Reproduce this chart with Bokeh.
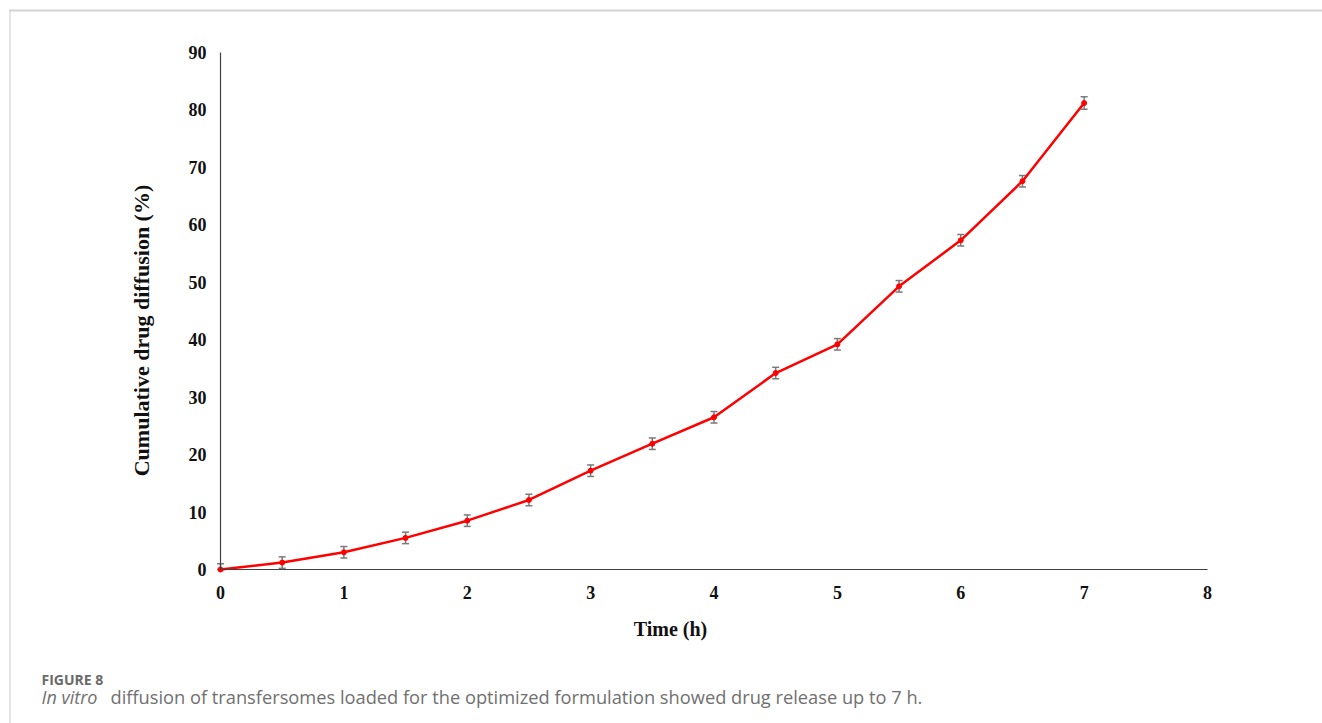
import math
from bokeh.plotting import figure
from bokeh.models import (ColumnDataSource, Range1d, Whisker, TeeHead, Label,
                          BoxAnnotation, FixedTicker)
from bokeh.embed import file_html
from bokeh.resources import INLINE

# ---- data ----
time_h = [0, 0.5, 1, 1.5, 2, 2.5, 3, 3.5, 4, 4.5, 5, 5.5, 6, 6.5, 7]
diffusion = [0.0, 1.2, 3.0, 5.5, 8.5, 12.1, 17.2, 21.9, 26.5, 34.2, 39.2, 49.3, 57.3, 67.6, 81.2]
error = [1.0, 1.0, 1.0, 1.0, 1.0, 1.0, 1.0, 1.0, 1.0, 1.0, 1.0, 1.0, 1.0, 1.0, 1.1]
x_ticks = [0, 1, 2, 3, 4, 5, 6, 7, 8]
y_ticks = [0, 10, 20, 30, 40, 50, 60, 70, 80, 90]
x_title = "Time (h)"
y_title = "Cumulative drug diffusion (%)"
caption_head = "FIGURE 8"
caption_italic = "In vitro"
caption_rest = "diffusion of transfersomes loaded for the optimized formulation showed drug release up to 7 h."

lower = [max(0.0, d - e) for d, e in zip(diffusion, error)]
upper = [d + e for d, e in zip(diffusion, error)]
src = ColumnDataSource(dict(x=time_h, y=diffusion, lower=lower, upper=upper))

W, H = 1322, 723
# pixel placement of the axes box on the page
AX_L, AX_R, AX_T, AX_B = 220, 1207, 52, 569
X0, X1 = x_ticks[0], x_ticks[-1]
Y0, Y1 = y_ticks[0], y_ticks[-1]
kx = (AX_R - AX_L) / (X1 - X0)
ky = (AX_B - AX_T) / (Y1 - Y0)
x_range = Range1d(X0 - AX_L / kx, X1 + (W - AX_R) / kx)
y_range = Range1d(Y0 - (H - AX_B) / ky, Y1 + AX_T / ky)

p = figure(width=W, height=H, output_backend="svg", toolbar_location=None,
           x_range=x_range, y_range=y_range,
           min_border=0)
p.outline_line_color = None
p.xgrid.visible = False
p.ygrid.visible = False
p.background_fill_color = "white"
p.border_fill_color = "white"

serif = "Liberation Serif"
for ax in (p.xaxis[0], p.yaxis[0]):
    ax.fixed_location = 0
    ax.axis_line_color = "#404040"
    ax.axis_line_width = 1.2
    ax.major_tick_line_color = None
    ax.minor_tick_line_color = None
    ax.major_label_text_font = serif
    ax.major_label_text_font_style = "bold"
    ax.major_label_text_font_size = "18px"
    ax.major_label_text_color = "#111111"
p.xaxis[0].major_label_standoff = 10
p.yaxis[0].major_label_standoff = 8

p.xaxis[0].ticker = FixedTicker(ticks=x_ticks)
p.yaxis[0].ticker = FixedTicker(ticks=y_ticks)
p.xaxis[0].bounds = (X0, X1)
p.yaxis[0].bounds = (Y0, Y1)

# error bars
wh = Whisker(source=src, base="x", lower="lower", upper="upper",
             line_color="#7a7a7a", line_width=1.5,
             upper_head=TeeHead(size=7, line_color="#7a7a7a", line_width=1.5),
             lower_head=TeeHead(size=7, line_color="#7a7a7a", line_width=1.5))
p.add_layout(wh)

p.line("x", "y", source=src, line_color="#ff0000", line_width=2.5)
p.scatter("x", "y", source=src, marker="circle", size=5, color="#ff0000")

# screen units (frame == whole canvas); y counts from the bottom
def sx(cx):
    return cx

def sy(cy):
    return H - cy

# axis titles
p.add_layout(Label(x=sx(141), y=sy(330), x_units="screen", y_units="screen",
                   text=y_title, angle=math.pi / 2, text_align="center",
                   text_baseline="middle", text_font=serif, text_font_style="bold",
                   text_font_size="22px", text_color="#111111"))
p.add_layout(Label(x=sx(670), y=sy(628), x_units="screen", y_units="screen",
                   text=x_title, text_align="center",
                   text_baseline="middle", text_font=serif, text_font_style="bold",
                   text_font_size="20px", text_color="#111111"))

# page frame lines
p.add_layout(BoxAnnotation(left=sx(9), right=sx(W + 20), top=sy(9), bottom=sy(11),
                           left_units="screen", right_units="screen",
                           top_units="screen", bottom_units="screen",
                           fill_color="#d2d2d2", fill_alpha=1.0, line_color=None))
p.add_layout(BoxAnnotation(left=sx(9), right=sx(10), top=sy(9), bottom=sy(H + 20),
                           left_units="screen", right_units="screen",
                           top_units="screen", bottom_units="screen",
                           fill_color="#cccccc", fill_alpha=1.0, line_color=None))

sans = "Open Sans"
def mk(text, x, y, size, color, style="normal"):
    return Label(x=sx(x), y=sy(y), x_units="screen", y_units="screen", text=text,
                 text_font=sans, text_font_size=size, text_color=color,
                 text_font_style=style, text_baseline="alphabetic", text_align="left")

p.add_layout(mk(caption_head, 41, 679, "14px", "#6a6a6a", "bold"))
p.add_layout(mk(caption_italic, 41, 696, "18px", "#707070", "italic"))
p.add_layout(mk(caption_rest, 110, 696, "18.25px", "#707070"))

open("out.html", "w").write(file_html(p, INLINE))
